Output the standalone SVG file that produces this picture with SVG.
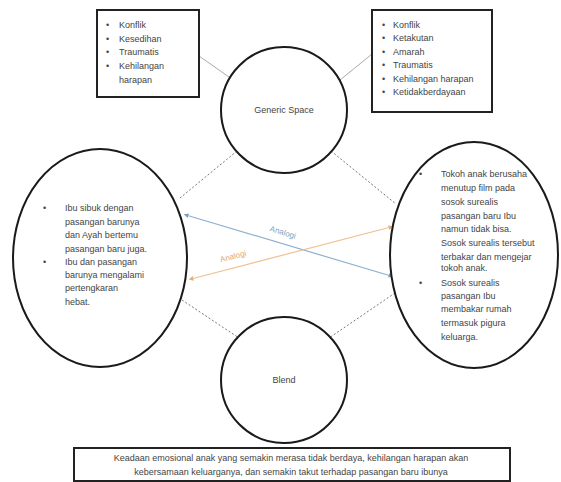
<svg xmlns="http://www.w3.org/2000/svg" width="561" height="482" viewBox="0 0 561 482">
<defs>
<style>
.box{fill:#fff;stroke:#222;stroke-width:2}
.shape{fill:#fff;stroke:#1a1a1a;stroke-width:2}
text{font-family:"Liberation Sans",Arial,sans-serif;font-size:9px;fill:#444}
.c{text-anchor:middle}
.solid{stroke:#aaa;stroke-width:1;fill:none}
.dot{stroke:#777;stroke-width:1;stroke-dasharray:2 2;fill:none}
.blue{stroke:#8fb0d0;stroke-width:1.2;fill:none;marker-start:url(#ab);marker-end:url(#ab)}
.orange{stroke:#f0c090;stroke-width:1.2;fill:none;marker-start:url(#ao);marker-end:url(#ao)}
.lb{fill:#7f9fc0;font-size:8px}
.lo{fill:#e0a870;font-size:8px}
</style>
<marker id="ab" viewBox="0 0 6 6" refX="3" refY="3" markerWidth="4" markerHeight="4" orient="auto-start-reverse"><path d="M0,0 L6,3 L0,6 z" fill="#7f9fbf"/></marker>
<marker id="ao" viewBox="0 0 6 6" refX="3" refY="3" markerWidth="4" markerHeight="4" orient="auto-start-reverse"><path d="M0,0 L6,3 L0,6 z" fill="#e0b080"/></marker>
</defs>
<rect width="561" height="482" fill="#fff"/>
<g id="connectors">
<line class="solid" x1="199" y1="56" x2="229" y2="77"/>
<line class="solid" x1="372" y1="54" x2="340" y2="80"/>
<line class="dot" x1="237" y1="151" x2="180" y2="198"/>
<line class="dot" x1="331" y1="151" x2="396" y2="204"/>
<line class="dot" x1="182" y1="300" x2="239" y2="338"/>
<line class="dot" x1="395" y1="293" x2="329" y2="338"/>
<line class="blue" x1="186" y1="215" x2="391" y2="276"/>
<line class="orange" x1="191" y1="279" x2="391" y2="227"/>
<text x="283" y="235" class="c lb" transform="rotate(16.5 283 232)">Analogi</text>
<text x="233" y="259" class="c lo" transform="rotate(-14.5 233 256)">Analogi</text>
</g>
<g id="box-left">
<rect class="box" x="97" y="10" width="102" height="87"/>
<text x="106" y="28">•</text><text x="119" y="28">Konflik</text>
<text x="106" y="42">•</text><text x="119" y="42">Kesedihan</text>
<text x="106" y="55">•</text><text x="119" y="55">Traumatis</text>
<text x="106" y="69">•</text><text x="119" y="69">Kehilangan</text>
<text x="119" y="83">harapan</text>
</g>
<g id="box-right">
<rect class="box" x="372" y="10" width="120" height="102"/>
<text x="382" y="28">•</text><text x="393" y="28">Konflik</text>
<text x="382" y="41">•</text><text x="393" y="41">Ketakutan</text>
<text x="382" y="55">•</text><text x="393" y="55">Amarah</text>
<text x="382" y="68">•</text><text x="393" y="68">Traumatis</text>
<text x="382" y="82">•</text><text x="393" y="82">Kehilangan harapan</text>
<text x="382" y="95">•</text><text x="393" y="95">Ketidakberdayaan</text>
</g>
<g id="generic-space">
<circle class="shape" cx="284" cy="110" r="63"/>
<text x="284" y="113" class="c">Generic Space</text>
</g>
<g id="input-left">
<ellipse class="shape" cx="100" cy="258" rx="87" ry="109"/>
<text x="43" y="211">•</text><text x="65" y="211">Ibu sibuk dengan</text>
<text x="65" y="225">pasangan barunya</text>
<text x="65" y="238">dan Ayah bertemu</text>
<text x="65" y="252">pasangan baru juga.</text>
<text x="43" y="265">•</text><text x="65" y="265">Ibu dan pasangan</text>
<text x="65" y="278">barunya mengalami</text>
<text x="65" y="291">pertengkaran</text>
<text x="65" y="305">hebat.</text>
</g>
<g id="input-right">
<ellipse class="shape" cx="474" cy="255" rx="84" ry="113"/>
<text x="419" y="177">•</text><text x="441" y="177">Tokoh anak berusaha</text>
<text x="441" y="191">menutup film pada</text>
<text x="441" y="205">sosok surealis</text>
<text x="441" y="219">pasangan baru Ibu</text>
<text x="441" y="232">namun tidak bisa.</text>
<text x="441" y="246">Sosok surealis tersebut</text>
<text x="441" y="260">terbakar dan mengejar</text>
<text x="441" y="271">tokoh anak.</text>
<text x="419" y="286">•</text><text x="441" y="286">Sosok surealis</text>
<text x="441" y="299">pasangan Ibu</text>
<text x="441" y="312">membakar rumah</text>
<text x="441" y="326">termasuk pigura</text>
<text x="441" y="340">keluarga.</text>
</g>
<g id="blend">
<circle class="shape" cx="284" cy="380" r="63"/>
<text x="284" y="383" class="c">Blend</text>
</g>
<g id="result">
<rect class="box" x="74" y="448" width="436" height="33"/>
<text x="291" y="461" class="c">Keadaan emosional anak yang semakin merasa tidak berdaya, kehilangan harapan akan</text>
<text x="291" y="475" class="c">kebersamaan keluarganya, dan semakin takut terhadap pasangan baru ibunya</text>
</g>
</svg>
